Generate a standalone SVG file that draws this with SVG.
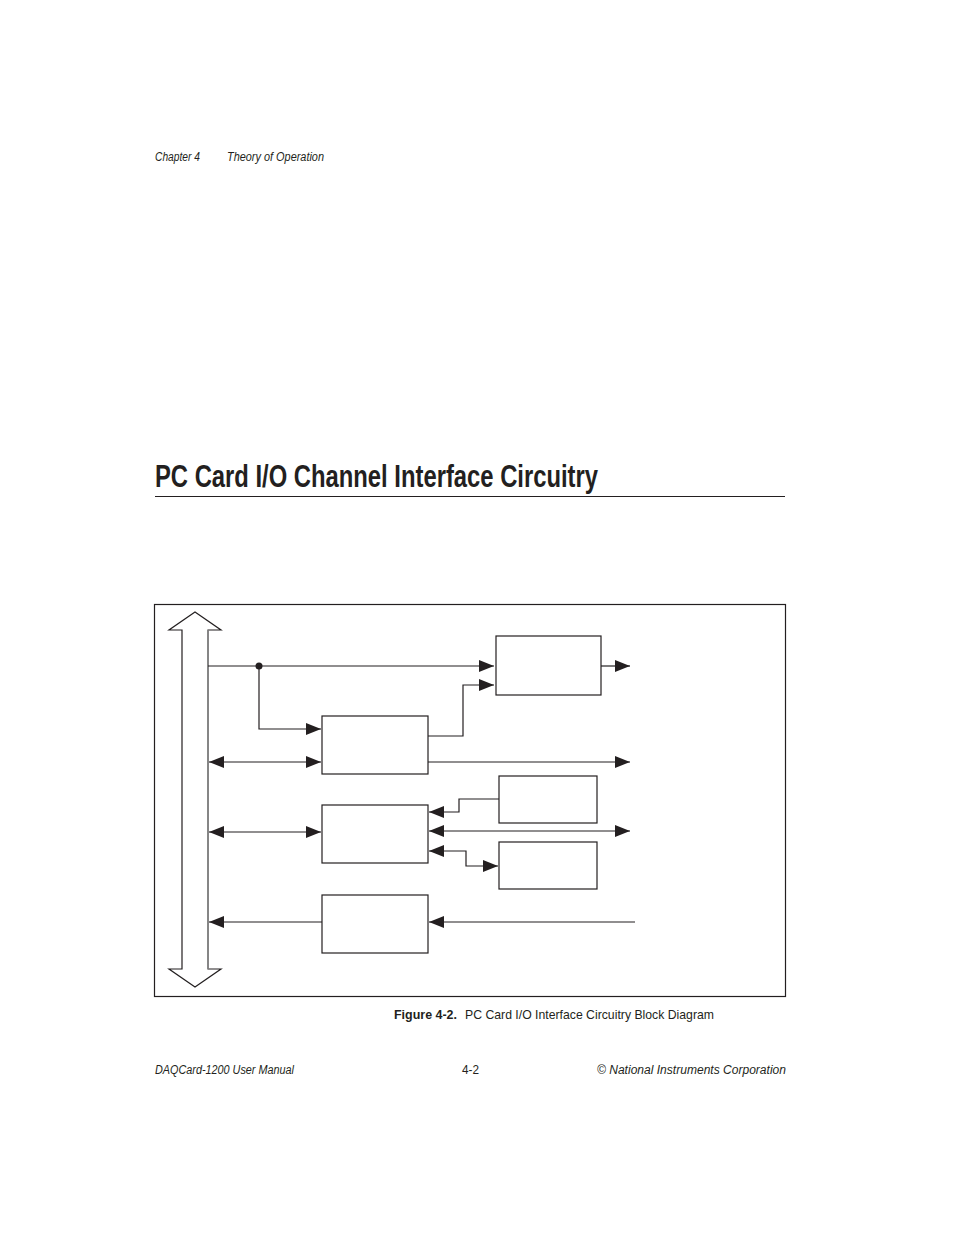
<svg xmlns="http://www.w3.org/2000/svg" width="954" height="1235" viewBox="0 0 954 1235">
<style>
.t{font-family:"Liberation Sans Narrow","Liberation Sans",Arial,sans-serif;fill:#231f20}
.it{font-style:italic;font-size:12px}
.box{fill:#fff;stroke:#231f20;stroke-width:1.2}
.ln{fill:none;stroke:#231f20;stroke-width:1.2}
</style>
<defs>
<marker id="ah" markerUnits="userSpaceOnUse" markerWidth="16" markerHeight="14" refX="15" refY="6" orient="auto-start-reverse">
<path d="M0,0 L15,6 L0,12 z" fill="#231f20"/>
</marker>
</defs>
<rect width="954" height="1235" fill="#fff"/>
<text class="t it" x="155" y="161" textLength="45" lengthAdjust="spacingAndGlyphs">Chapter 4</text>
<text class="t it" x="227" y="161" textLength="97" lengthAdjust="spacingAndGlyphs">Theory of Operation</text>
<text class="t" x="155" y="487" font-size="31" font-weight="bold" textLength="443" lengthAdjust="spacingAndGlyphs">PC Card I/O Channel Interface Circuitry</text>
<line x1="155" y1="496.5" x2="785" y2="496.5" stroke="#231f20" stroke-width="1"/>
<rect x="154.5" y="604.5" width="631" height="392" fill="none" stroke="#231f20" stroke-width="1.2"/>
<g id="bus">
<polygon points="182,630 169,630 195,612 221,630 208,630 208,969 221,969 195,987 169,969 182,969" fill="#fff" stroke="#231f20" stroke-width="1.2"/>
<line x1="208" y1="630" x2="208" y2="969" stroke="#8a8a8a" stroke-width="1.6"/>
</g>
<g id="n1"><rect class="box" x="496" y="636" width="105" height="59"/></g>
<g id="n2"><rect class="box" x="322" y="716" width="106" height="58"/></g>
<g id="n3"><rect class="box" x="322" y="805" width="106" height="58"/></g>
<g id="n4"><rect class="box" x="322" y="895" width="106" height="58"/></g>
<g id="n5"><rect class="box" x="499" y="776" width="98" height="47"/></g>
<g id="n6"><rect class="box" x="499" y="842" width="98" height="47"/></g>
<g id="connectors">
<path class="ln" d="M208,666 H494" marker-end="url(#ah)"/>
<circle cx="259" cy="666" r="3.5" fill="#231f20"/>
<path class="ln" d="M259,666 V729 H321" marker-end="url(#ah)"/>
<path class="ln" d="M209,762 H321" marker-start="url(#ah)" marker-end="url(#ah)"/>
<path class="ln" d="M428,736 H463 V685 H494" marker-end="url(#ah)"/>
<path class="ln" d="M601,666 H630" marker-end="url(#ah)"/>
<path class="ln" d="M428,762 H630" marker-end="url(#ah)"/>
<path class="ln" d="M209,832 H321" marker-start="url(#ah)" marker-end="url(#ah)"/>
<path class="ln" d="M499,799 H459 V812 H429" marker-end="url(#ah)"/>
<path class="ln" d="M429,831 H630" marker-start="url(#ah)" marker-end="url(#ah)"/>
<path class="ln" d="M429,851 H466 V866 H498" marker-start="url(#ah)" marker-end="url(#ah)"/>
<path class="ln" d="M322,922 H209" marker-end="url(#ah)"/>
<path class="ln" d="M635,922 H429" marker-end="url(#ah)"/>
</g>
<text class="t" x="394" y="1019" font-size="13" font-weight="bold" textLength="63" lengthAdjust="spacingAndGlyphs">Figure 4-2.</text>
<text class="t" x="465" y="1019" font-size="13" textLength="249" lengthAdjust="spacingAndGlyphs">PC Card I/O Interface Circuitry Block Diagram</text>
<text class="t it" x="155" y="1074" textLength="139" lengthAdjust="spacingAndGlyphs">DAQCard-1200 User Manual</text>
<text class="t" x="462" y="1074" font-size="12" textLength="17" lengthAdjust="spacingAndGlyphs">4-2</text>
<text class="t it" x="597" y="1074" textLength="189" lengthAdjust="spacingAndGlyphs">© National Instruments Corporation</text>
</svg>
